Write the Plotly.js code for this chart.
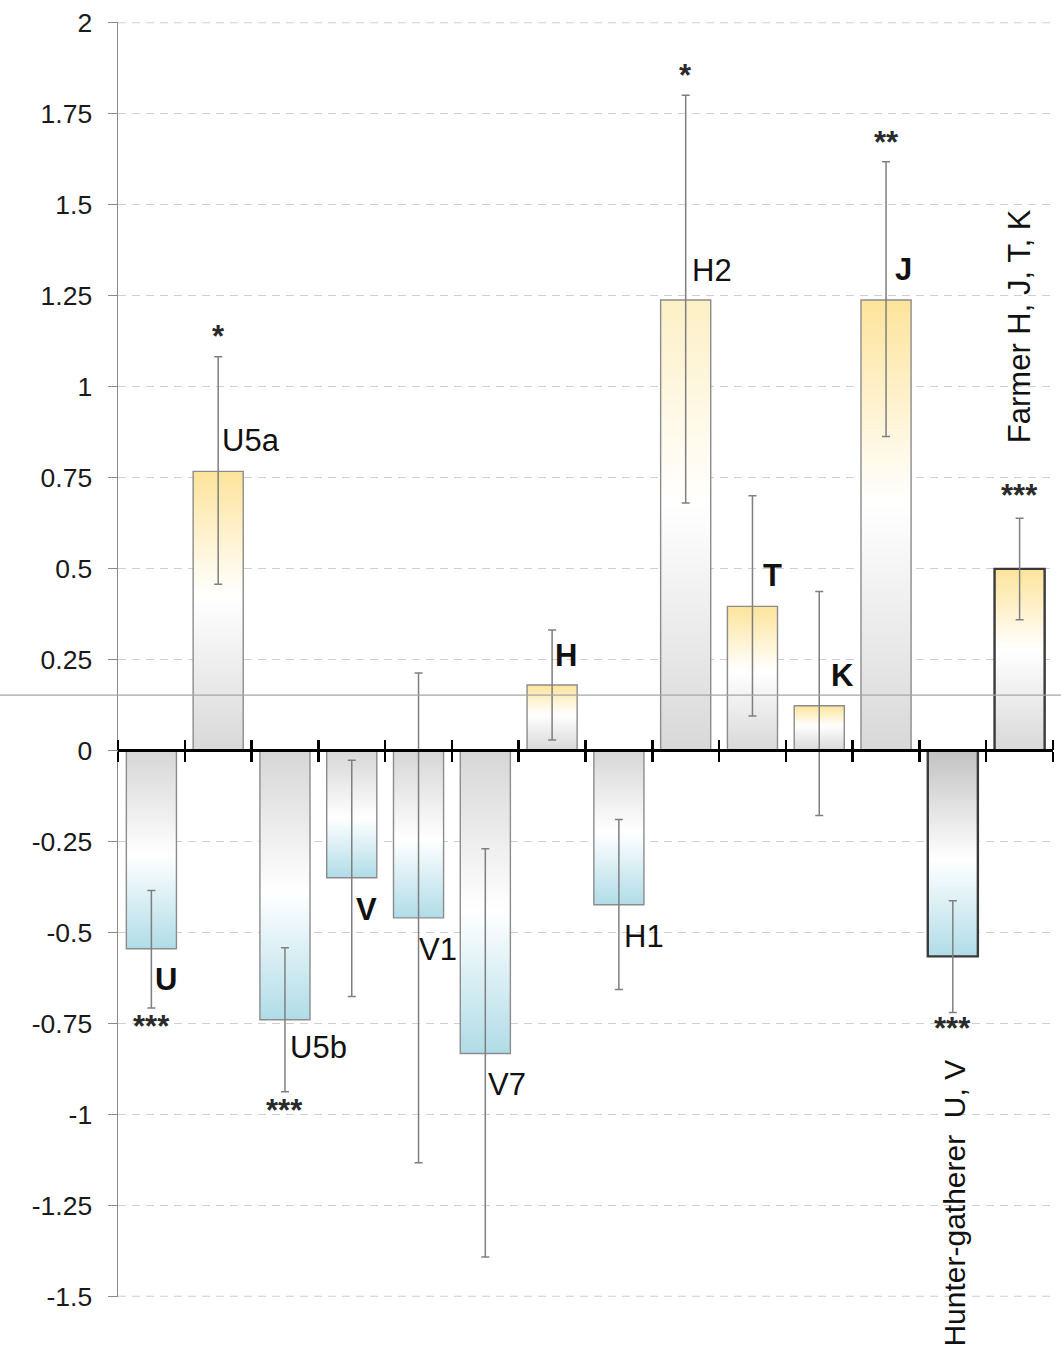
<!DOCTYPE html>
<html>
<head>
<meta charset="utf-8">
<script src="https://cdn.plot.ly/plotly-3.0.1.min.js"></script>
<style>
html,body{margin:0;padding:0;background:#fff;}
#chart{width:1061px;height:1350px;}
</style>
</head>
<body>
<div id="chart"></div>
<script>
// ---------------- DATA ----------------
const categories = ['U','U5a','U5b','V','V1','V7','H','H1','H2','T','K','J','Hunter-gatherer','Farmer'];
const values  = [-0.545, 0.767, -0.74, -0.35, -0.46, -0.833, 0.18, -0.424, 1.238, 0.396, 0.123, 1.238, -0.566, 0.499];
const ciUpper = [-0.385, 1.082, -0.542, -0.027, 0.213, -0.27, 0.331, -0.19, 1.801, 0.70, 0.437, 1.618, -0.413, 0.638];
const ciLower = [-0.708, 0.457, -0.938, -0.676, -1.133, -1.392, 0.029, -0.657, 0.68, 0.095, -0.179, 0.863, -0.72, 0.359];
const barLabels = ['<b>U</b>','U5a','U5b','<b>V</b>','V1','V7','<b>H</b>','H1','H2','<b>T</b>','<b>K</b>','<b>J</b>','',''];
const significance = ['***','*','***','','','','','','*','','','**','***','***'];
const groupLabels = ['Hunter-gatherer  U, V','Farmer H, J, T, K'];
const threshold = 0.152;
const yTickVals = [2,1.75,1.5,1.25,1,0.75,0.5,0.25,0,-0.25,-0.5,-0.75,-1,-1.25,-1.5];
const yTickText = ['2','1.75','1.5','1.25','1','0.75','0.5','0.25','0','-0.25','-0.5','-0.75','-1','-1.25','-1.5'];

// ---------------- STYLE / POSITIONS ----------------
const FONT = 'Liberation Sans, Arial, sans-serif';
const BARW = 0.75;
const n = categories.length;
const xIdx = categories.map((c,i)=>i);
const boundaries = Array.from({length:n+1},(_,i)=>i-0.5);
const isGroup = categories.map((c,i)=> i>=12);
const topYellow = categories.map(c => c==='H2' ? '#fdf0c6' : '#fde49b');
const negTopGray = categories.map((c,i)=> isGroup[i] ? '#c2c2c2' : '#d6d6d6');
const labelPos = [[0.225,-0.629],[1.497,0.851],[2.506,-0.815],[3.224,-0.438],[4.286,-0.548],[5.326,-0.919],
                  [6.208,0.26],[7.375,-0.512],[8.392,1.319],[9.304,0.481],[10.343,0.207],[11.256,1.321],[0,0],[0,0]];
const starY = [-0.748,1.148,-0.979,0,0,0,0,0,1.867,0,0,1.683,-0.754,0.711];

// ---------------- TRACES ----------------
const traces = [];
categories.forEach((c,i)=>{
  const v = values[i];
  const x0 = i - BARW/2, x1 = i + BARW/2;
  const cs = v >= 0
    ? [[0,'#d8d8d8'],[0.55,'#ffffff'],[1,topYellow[i]]]
    : [[0,'#b0dce7'],[0.47,'#ffffff'],[1,negTopGray[i]]];
  traces.push({
    type:'scatter', mode:'lines', xaxis:'x', yaxis:'y',
    x:[x0,x1,x1,x0,x0], y:[0,0,v,v,0],
    fill:'toself', line:{width:0, color:'rgba(0,0,0,0)'},
    fillgradient:{type:'vertical', colorscale:cs},
    hoverinfo:'skip', showlegend:false
  });
});
traces.push({
  type:'bar', xaxis:'x2', yaxis:'y2',
  x: xIdx, y: values, width: BARW,
  marker:{color:'rgba(0,0,0,0)',
          line:{color: isGroup.map(g=>g?'#3a3a3a':'#8c8c8c'), width: isGroup.map(g=>g?2.4:1.4)}},
  error_y:{type:'data', symmetric:false,
           array: values.map((v,i)=>ciUpper[i]-v),
           arrayminus: values.map((v,i)=>v-ciLower[i]),
           color:'#7f7f7f', thickness:1.5, width:4},
  hovertext: categories, hoverinfo:'text+y', textposition:'none', showlegend:false
});

// ---------------- ANNOTATIONS ----------------
const ann = [];
categories.forEach((c,i)=>{
  if (barLabels[i]) ann.push({xref:'x',yref:'y',x:labelPos[i][0],y:labelPos[i][1],text:barLabels[i],
    showarrow:false,xanchor:'center',yanchor:'middle',font:{family:FONT,size:31,color:'#111'}});
  if (significance[i]) ann.push({xref:'x',yref:'y',x:i,y:starY[i],text:'<b>'+significance[i]+'</b>',
    showarrow:false,xanchor:'center',yanchor:'middle',yshift:-4,font:{family:FONT,size:31,color:'#2a2a2a'}});
});
ann.push({xref:'x',yref:'y',x:12.03,y:-1.243,text:groupLabels[0],textangle:-90,showarrow:false,
  xanchor:'center',yanchor:'middle',font:{family:FONT,size:30,color:'#111'}});
ann.push({xref:'x',yref:'y',x:12.99,y:1.166,text:groupLabels[1],textangle:-90,showarrow:false,
  xanchor:'center',yanchor:'middle',font:{family:FONT,size:31,color:'#111'}});

const yr = [-1.502, 2.002];
const zeroPos = (0 - yr[0])/(yr[1]-yr[0]);
const GRID = '#cfcfcf';
const edgeGrid = [2, -1.5].map(v => ({type:'line', xref:'paper', yref:'y', x0:0, x1:1, y0:v, y1:v,
  line:{color:GRID, width:1.2, dash:'8px,6px'}, layer:'below'}));
const layout = {
  width:1061, height:1350,
  margin:{l:117.5, r:7.5, t:22, b:52.6, pad:0},
  paper_bgcolor:'#fff', plot_bgcolor:'rgba(0,0,0,0)',
  showlegend:false,
  xaxis:{range:[-0.5,13.5], anchor:'free', position:zeroPos, showline:true, linecolor:'#000', linewidth:2.5,
         ticks:'outside', ticklen:10, tickwidth:2.5, tickcolor:'#000', tickmode:'array', tickvals:boundaries,
         showticklabels:false, showgrid:false, zeroline:false},
  xaxis2:{range:[-0.5,13.5], overlaying:'x', side:'top', anchor:'free', position:zeroPos, showline:false,
         ticks:'outside', ticklen:10, tickwidth:2.5, tickcolor:'#000', tickmode:'array', tickvals:boundaries,
         showticklabels:false, showgrid:false, zeroline:false},
  yaxis:{range:yr, tickmode:'array', tickvals:yTickVals, ticktext:yTickText,
         showline:true, linecolor:'#8a8a8a', linewidth:1.5, ticks:'outside', ticklen:9, tickwidth:1.5, tickcolor:'#8a8a8a',
         ticklabelstandoff:10,
         showgrid:true, gridcolor:GRID, gridwidth:1.2, griddash:'8px,6px', zeroline:false,
         tickfont:{family:FONT, size:26.5, color:'#1a1a1a'}},
  yaxis2:{range:yr, overlaying:'y', visible:false},
  shapes: edgeGrid.concat([{type:'line', xref:'paper', yref:'y', x0:-0.13, x1:1.01, y0:threshold, y1:threshold,
           line:{color:'#a6a6a6', width:1.2}, layer:'above'}]),
  annotations: ann
};
Plotly.newPlot('chart', traces, layout, {displayModeBar:false, staticPlot:true});
</script>
</body>
</html>
